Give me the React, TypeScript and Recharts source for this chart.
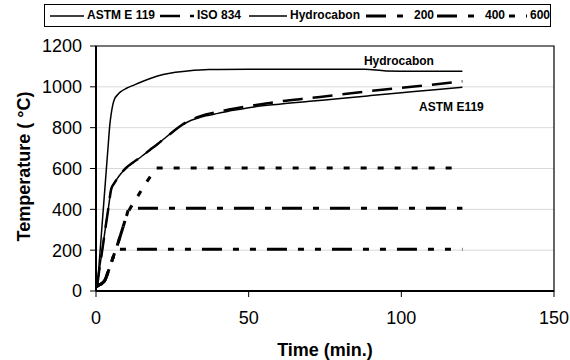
import React from 'react';
import {
  LineChart,
  Line,
  XAxis,
  YAxis,
  CartesianGrid,
  ReferenceArea,
  ReferenceDot,
} from 'recharts';

// (time in min., temperature in °C)
const astmTime = [0, 0.5, 1, 2, 3, 4, 5, 6, 7, 8, 10, 12, 15, 18, 20, 22, 25, 28, 30, 33, 36, 40, 45, 50, 60, 70, 80, 90, 100, 110, 120];
const astmTemp = [20, 41, 95, 195, 300, 400, 500, 528, 552, 572, 605, 628, 660, 695, 718, 742, 778, 812, 828, 845, 858, 870, 885, 898, 915, 929, 943, 957, 971, 985, 998];

const isoTime = [0, 0.5, 1, 2, 3, 4, 5, 6, 7, 8, 10, 12, 15, 18, 20, 22, 25, 28, 30, 33, 36, 40, 45, 50, 60, 70, 80, 90, 100, 110, 120];
const isoTemp = [20, 41, 95, 195, 300, 400, 500, 528, 552, 572, 605, 628, 660, 695, 718, 742, 778, 812, 830, 850, 865, 878, 893, 905, 928, 945, 962, 980, 995, 1010, 1027];

const hydroTime = [0, 0.5, 1, 2, 3, 4, 4.5, 5, 5.5, 6, 7, 8, 10, 12, 15, 18, 22, 26, 30, 37, 50, 70, 88, 95, 105, 120];
const hydroTemp = [20, 40, 130, 325, 520, 715, 810, 870, 912, 938, 960, 975, 993, 1006, 1025, 1042, 1060, 1071, 1078, 1085, 1086, 1086, 1086, 1078, 1076, 1076];

const t200Time = [0, 1, 2, 3, 4, 5, 6, 6.6, 120];
const t200Temp = [20, 30, 38, 55, 95, 138, 182, 204, 204];

const t400Time = [0, 1, 2, 3, 4, 5, 6, 7, 8, 9, 10, 10.9, 120];
const t400Temp = [20, 30, 38, 55, 95, 138, 182, 225, 272, 320, 368, 405, 405];

const t600Time = [0, 1, 2, 3, 4, 5, 6, 7, 8, 9, 10, 11, 12, 13, 14, 15, 16, 17, 18, 19, 19.7, 120];
const t600Temp = [20, 30, 38, 55, 95, 138, 182, 225, 272, 320, 368, 400, 425, 448, 472, 497, 520, 543, 565, 585, 602, 602];

const xTicks = [0, 50, 100, 150];
const yTicks = [0, 200, 400, 600, 800, 1000, 1200];

const toPoints = (time: number[], temp: number[]) =>
  time.map((t, i) => ({ t, temp: temp[i] }));

const FONT = '"Liberation Sans", Arial, Helvetica, sans-serif';

const series = [
  { key: 'astm', name: 'ASTM E 119', data: toPoints(astmTime, astmTemp), width: 1.5, dash: undefined as string | undefined, sx: 49, tx: 86 },
  { key: 'iso', name: 'ISO 834', data: toPoints(isoTime, isoTemp), width: 2.5, dash: '20 10', sx: 159, tx: 196 },
  { key: 'hydro', name: 'Hydrocabon', data: toPoints(hydroTime, hydroTemp), width: 1.5, dash: undefined, sx: 248, tx: 289 },
  { key: 't200', name: '200', data: toPoints(t200Time, t200Temp), width: 3, dash: '20 11 6 11 6 11', sx: 365, tx: 413 },
  { key: 't400', name: '400', data: toPoints(t400Time, t400Temp), width: 3, dash: '20 11 6 11', sx: 436, tx: 484 },
  { key: 't600', name: '600', data: toPoints(t600Time, t600Temp), width: 3, dash: '6 11', sx: 508, tx: 529 },
];

function ChartLegend() {
  return (
    <div
      style={{
        position: 'absolute',
        left: 44,
        top: 4,
        width: 507,
        height: 23,
        border: '1px solid #000',
        boxSizing: 'border-box',
        fontFamily: FONT,
        fontWeight: 'bold',
        fontSize: 12,
        background: '#fff',
      }}
    >
      {series.map((s) => {
        const w = s.tx - s.sx - 3;
        return (
          <React.Fragment key={s.key}>
            <svg
              width={w}
              height={10}
              style={{ position: 'absolute', left: s.sx - 44, top: 6 }}
            >
              <line x1={0} y1={5} x2={w} y2={5} stroke="#000" strokeWidth={s.width} strokeDasharray={s.dash} />
            </svg>
            <span style={{ position: 'absolute', left: s.tx - 44, top: 3, lineHeight: '14px', whiteSpace: 'nowrap' }}>
              {s.name}
            </span>
          </React.Fragment>
        );
      })}
    </div>
  );
}

const YTitle = (props: any) => {
  const vb = props.viewBox || { x: 0, y: 46, width: 96, height: 245 };
  const cx = 24;
  const cy = vb.y + vb.height / 2 - 2;
  return (
    <text
      x={cx}
      y={cy}
      transform={`rotate(-90 ${cx} ${cy})`}
      textAnchor="middle"
      dominantBaseline="central"
      fontFamily={FONT}
      fontWeight="bold"
      fontSize={18}
      fill="#000"
    >
      Temperature ( °C)
    </text>
  );
};

const XTitle = (props: any) => {
  const vb = props.viewBox || { x: 96, y: 291, width: 458, height: 69 };
  return (
    <text
      x={vb.x + vb.width / 2}
      y={vb.y + 65}
      textAnchor="middle"
      fontFamily={FONT}
      fontWeight="bold"
      fontSize={18}
      fill="#000"
    >
      Time (min.)
    </text>
  );
};

const plotLabel = (text: string) => (props: any) => (
  <text
    x={props.cx}
    y={props.cy}
    textAnchor="middle"
    dominantBaseline="central"
    fontFamily={FONT}
    fontWeight="bold"
    fontSize={12}
    fill="#000"
  >
    {text}
  </text>
);

export default function App() {
  return (
    <div
      style={{
        position: 'fixed',
        left: 0,
        top: 0,
        width: 570,
        height: 360,
        overflow: 'hidden',
        background: '#fff',
      }}
    >
      <LineChart
        width={570}
        height={360}
        margin={{ top: 46, right: 16, bottom: 0, left: 0 }}
        style={{ fontFamily: FONT }}
      >
        <CartesianGrid vertical={false} stroke="#d9d9d9" strokeWidth={1} />
        <ReferenceArea
          x1={0}
          x2={150}
          y1={0}
          y2={1200}
          fill="none"
          stroke="#000"
          strokeWidth={1.2}
          fillOpacity={0}
        />
        <XAxis
          type="number"
          dataKey="t"
          domain={[0, 150]}
          ticks={xTicks}
          height={69}
          axisLine={{ stroke: '#000', strokeWidth: 2 }}
          tickLine={{ stroke: '#000', strokeWidth: 1 }}
          tickSize={6}
          tickMargin={14}
          tick={{ fill: '#000', fontSize: 18, fontFamily: FONT }}
          label={<XTitle />}
        />
        <YAxis
          type="number"
          domain={[0, 1200]}
          ticks={yTicks}
          width={96}
          axisLine={{ stroke: '#000', strokeWidth: 2 }}
          tickLine={{ stroke: '#000', strokeWidth: 1 }}
          tickSize={6}
          tickMargin={8}
          tick={{ fill: '#000', fontSize: 18, fontFamily: FONT }}
          label={<YTitle />}
        />
        {series.map((s) => (
          <Line
            key={s.key}
            data={s.data}
            dataKey="temp"
            name={s.name}
            type="monotone"
            stroke="#000"
            strokeWidth={s.width}
            strokeDasharray={s.dash}
            dot={false}
            activeDot={false}
            isAnimationActive={false}
          />
        ))}
        <ReferenceDot x={99.2} y={1126} r={0} shape={plotLabel('Hydrocabon')} ifOverflow="visible" />
        <ReferenceDot x={116.4} y={901} r={0} shape={plotLabel('ASTM E119')} ifOverflow="visible" />
      </LineChart>
      <ChartLegend />
    </div>
  );
}
